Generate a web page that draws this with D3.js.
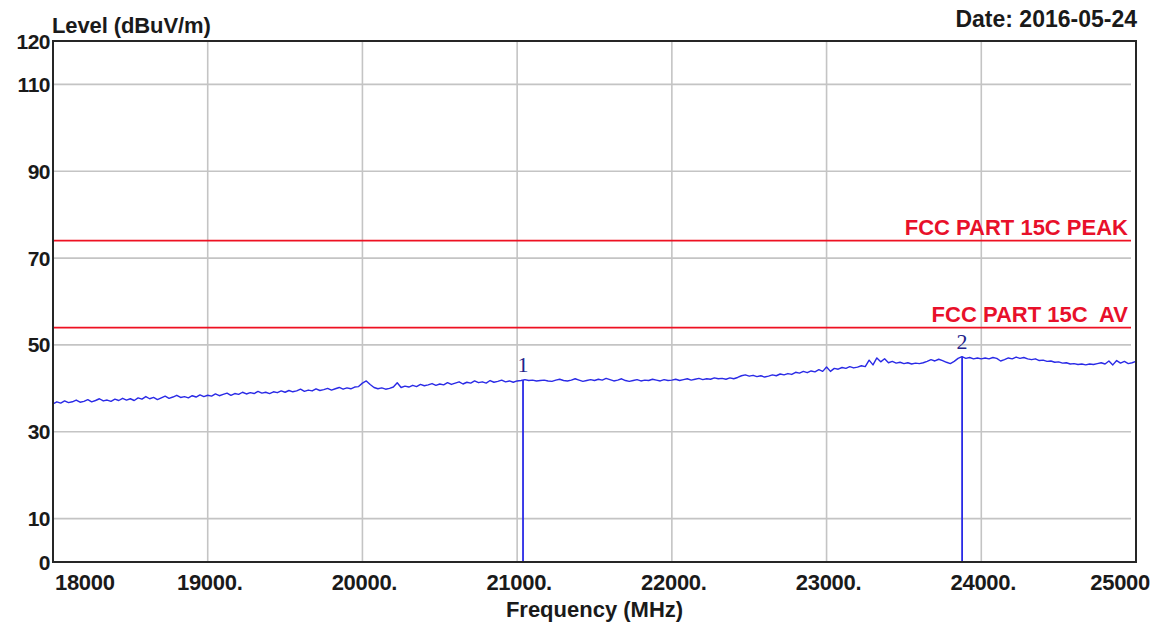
<!DOCTYPE html>
<html>
<head>
<meta charset="utf-8">
<script src="https://cdn.jsdelivr.net/npm/d3@7"></script>
<style>
  html, body { margin: 0; padding: 0; background: #ffffff; }
  svg { display: block; }
  text { font-family: "Liberation Sans", Arial, sans-serif; }
</style>
</head>
<body>
<svg id="chart" width="1165" height="625"></svg>
<script>
// ---- data ----
const freqStart = 18000;
const freqStep = 25;
const traceLevels = [
  36.4, 36.9, 36.6, 37.1, 36.7, 36.9, 37.3, 36.8, 37.0, 37.4, 36.9, 37.2, 37.6, 37.1, 37.3, 37.0, 37.5, 37.2, 37.7, 37.3,
  37.6, 37.2, 37.8, 37.5, 38.1, 37.6, 37.9, 37.4, 37.8, 38.2, 37.7, 38.0, 38.4, 37.9, 38.1, 37.8, 38.3, 38.0, 38.5, 38.1,
  38.4, 38.2, 38.7, 38.3, 38.6, 38.9, 38.4, 38.8, 38.6, 39.1, 38.7, 39.0, 38.8, 39.3, 38.9, 39.1, 38.8, 39.2, 39.0, 39.4,
  39.1, 39.5, 39.2, 39.4, 39.8, 39.3, 39.6, 39.4, 39.9, 39.5, 39.7, 40.0, 39.6, 39.9, 40.2, 39.8, 40.1, 39.9, 40.3, 40.4,
  41.2, 41.7, 40.9, 40.2, 39.9, 40.1, 39.8, 40.0, 40.3, 41.3, 40.2, 40.5, 40.3, 40.7, 40.4, 40.9, 40.6, 40.8, 41.1, 40.7,
  41.0, 40.8, 41.3, 40.9, 41.2, 41.5, 41.0, 41.4, 41.2, 41.7, 41.3, 41.5, 41.2, 41.8, 41.4, 41.6, 41.9, 41.5, 41.7, 41.4,
  41.7, 41.8, 42.0, 41.8, 41.9, 41.7, 41.8, 41.9, 41.7, 41.6, 41.9, 42.1, 41.8, 41.7, 41.9, 42.2, 41.9, 41.6, 41.8, 42.0,
  41.8, 42.1, 41.9, 42.3, 42.0, 41.7, 41.9, 42.2, 41.8, 41.6, 41.8, 42.0, 41.7, 41.9, 41.8, 42.1, 41.9, 41.7, 42.0, 41.8,
  41.9, 42.1, 41.8, 42.0, 42.2, 41.9, 42.1, 42.3, 42.0, 42.2, 42.1, 42.4, 42.2, 42.3, 42.1, 42.4, 42.2, 42.5, 42.9, 43.1,
  42.8, 43.0, 42.7, 42.9, 42.6, 42.8, 43.1, 42.9, 43.3, 43.1, 43.4, 43.2, 43.7, 43.5, 43.9, 43.6, 44.0, 43.8, 44.3, 43.9,
  44.9, 43.9, 44.6, 44.4, 44.8, 44.6, 45.0, 44.7, 44.9, 45.2, 45.0, 46.5, 45.4, 47.0, 46.1, 46.8, 45.9, 46.2, 45.8, 46.0,
  45.7, 45.9, 45.6, 45.8, 45.7, 45.9, 46.2, 46.6, 46.3, 46.7, 46.4, 46.0, 45.7, 46.2, 46.9, 47.3, 46.9, 47.1, 46.8, 47.0,
  46.8, 47.0, 46.8, 47.1, 46.9, 46.3, 46.6, 47.0, 46.8, 47.2, 46.9, 47.1, 46.8, 46.6, 46.8, 46.4, 46.5, 46.2, 46.3, 46.0,
  46.1, 45.8, 45.9, 45.6, 45.7, 45.5, 45.6, 45.4, 45.6, 45.5, 45.7, 45.9, 45.6, 46.3, 45.4, 46.4, 45.8, 46.2, 45.7, 45.9,
  46.2
];
const xTickValues = [18000, 19000, 20000, 21000, 22000, 23000, 24000, 25000];
const xTickLabels = ["18000", "19000.", "20000.", "21000.", "22000.", "23000.", "24000.", "25000"];
const yTickValues = [0, 10, 30, 50, 70, 90, 110, 120];
const yGridValues = [10, 30, 50, 70, 90, 110];
const limitNames = ["FCC PART 15C PEAK", "FCC PART 15C  AV"];
const limitLevels = [74, 54];
const markerNames = ["1", "2"];
const markerFreqs = [21038, 23876];
const markerLevels = [41.9, 47.3];
const xTitle = "Frequency (MHz)";
const yTitle = "Level (dBuV/m)";
const dateText = "Date: 2016-05-24";

// ---- layout ----
const svg = d3.select("#chart");
const pLeft = 53, pRight = 1136, pTop = 41, pBottom = 562;
const x = d3.scaleLinear().domain([18000, 25000]).range([pLeft, pRight]);
const y = d3.scaleLinear().domain([0, 120]).range([pBottom, pTop]);

const trace = traceLevels.map((v, i) => ({ f: freqStart + i * freqStep, v }));

// gridlines
svg.append("g").selectAll("line").data(yGridValues).join("line")
  .attr("x1", pLeft).attr("x2", pRight - 5)
  .attr("y1", d => y(d)).attr("y2", d => y(d))
  .attr("stroke", "#c4c4c4").attr("stroke-width", 1.6);
svg.append("g").selectAll("line").data(xTickValues.slice(1, -1)).join("line")
  .attr("x1", d => x(d)).attr("x2", d => x(d))
  .attr("y1", pTop).attr("y2", pBottom)
  .attr("stroke", "#c4c4c4").attr("stroke-width", 1.6);

// limit lines
svg.append("g").selectAll("line").data(limitLevels).join("line")
  .attr("x1", pLeft).attr("x2", pRight - 5)
  .attr("y1", d => y(d)).attr("y2", d => y(d))
  .attr("stroke", "#ee1122").attr("stroke-width", 1.8);
svg.append("g").selectAll("text").data(limitLevels).join("text")
  .attr("x", pRight - 8).attr("y", d => y(d) - 6)
  .attr("text-anchor", "end")
  .attr("font-size", 22).attr("font-weight", "bold")
  .attr("fill", "#e8102a")
  .style("white-space", "pre")
  .text((d, i) => limitNames[i]);

// trace
const line = d3.line().x(d => x(d.f)).y(d => y(d.v));
svg.append("path").datum(trace)
  .attr("d", line)
  .attr("fill", "none").attr("stroke", "#2a2ae6").attr("stroke-width", 1.4)
  .attr("stroke-linejoin", "round");

// markers
svg.append("g").selectAll("line").data(markerFreqs).join("line")
  .attr("x1", d => x(d)).attr("x2", d => x(d))
  .attr("y1", (d, i) => y(markerLevels[i])).attr("y2", pBottom)
  .attr("stroke", "#2a2ae6").attr("stroke-width", 1.8);
svg.append("g").selectAll("text").data(markerFreqs).join("text")
  .attr("x", d => x(d)).attr("y", (d, i) => y(markerLevels[i]) - 8)
  .attr("text-anchor", "middle")
  .style("font-family", "'Liberation Serif', 'Times New Roman', serif")
  .attr("font-size", 22)
  .attr("fill", "#23238a")
  .text((d, i) => markerNames[i]);

// frame
svg.append("rect")
  .attr("x", pLeft).attr("y", pTop)
  .attr("width", pRight - pLeft).attr("height", pBottom - pTop)
  .attr("fill", "none").attr("stroke", "#262626").attr("stroke-width", 2);

// y tick labels
svg.append("g").selectAll("text").data(yTickValues).join("text")
  .attr("x", pLeft - 3).attr("y", d => y(d))
  .attr("dy", "0.36em")
  .attr("text-anchor", "end")
  .attr("font-size", 21).attr("font-weight", "bold").attr("letter-spacing", -0.5)
  .attr("fill", "#1a1a1a")
  .text(d => d);

// x tick labels
svg.append("g").selectAll("text").data(xTickValues).join("text")
  .attr("x", (d, i) => i === 0 ? x(d) + 2 : (i === xTickValues.length - 1 ? x(d) + 14 : x(d) + 2))
  .attr("y", 590)
  .attr("text-anchor", (d, i) => i === 0 ? "start" : (i === xTickValues.length - 1 ? "end" : "middle"))
  .attr("font-size", 22).attr("font-weight", "bold").attr("letter-spacing", -0.3)
  .attr("fill", "#1a1a1a")
  .text((d, i) => xTickLabels[i]);

// titles
svg.append("text")
  .attr("x", (pLeft + pRight) / 2).attr("y", 617)
  .attr("text-anchor", "middle")
  .attr("font-size", 22).attr("font-weight", "bold")
  .attr("fill", "#1a1a1a")
  .text(xTitle);
svg.append("text")
  .attr("x", pLeft - 1).attr("y", 33)
  .attr("font-size", 22).attr("font-weight", "bold").attr("letter-spacing", -0.1)
  .attr("fill", "#1a1a1a")
  .text(yTitle);
svg.append("text")
  .attr("x", pRight + 1).attr("y", 27)
  .attr("text-anchor", "end")
  .attr("font-size", 23).attr("font-weight", "bold")
  .attr("fill", "#1a1a1a")
  .text(dateText);
</script>
</body>
</html>
